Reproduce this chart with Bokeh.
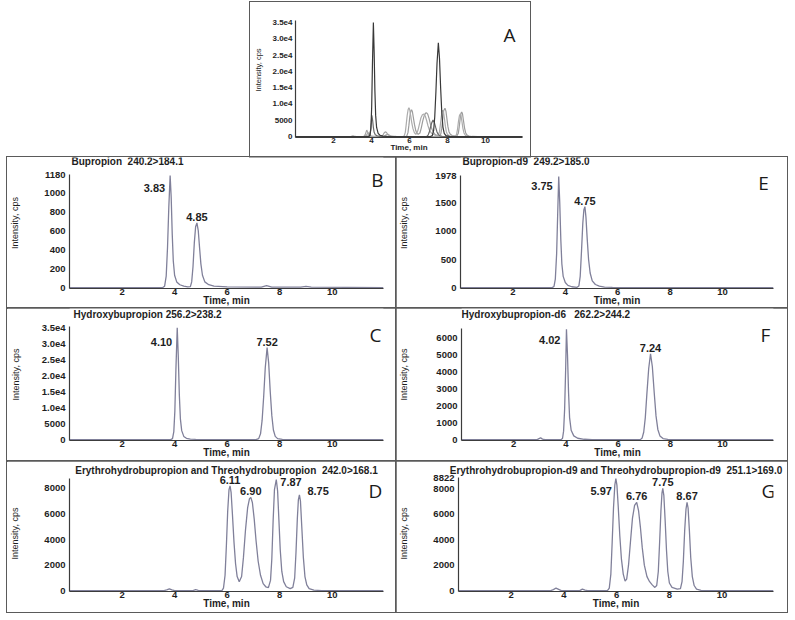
from bokeh.plotting import figure
from bokeh.models import Range1d, FixedTicker, Label, Spacer
from bokeh.layouts import column, row
from bokeh.embed import file_html
from bokeh.resources import INLINE

# ---------------- data ----------------
x_ticks = [2, 4, 6, 8, 10]
x_end = 11.95
x_label = "Time, min"
y_label = "Intensity, cps"

# Panel B : Bupropion
b_title = "Bupropion\u00a0 240.2>184.1"
b_time = [0, 3.55, 3.62, 3.68, 3.73, 3.78, 3.83, 3.87, 3.91, 3.95, 4.0, 4.08, 4.2, 4.35, 4.5,
          4.6, 4.65, 4.7, 4.75, 4.8, 4.85, 4.9, 4.95, 5.0, 5.06, 5.15, 5.3, 5.5, 6.0, 7.3, 7.5,
          7.7, 8.8, 9.0, 9.2, 11.95]
b_int = [0, 0, 15, 120, 420, 850, 1180, 950, 560, 280, 130, 60, 30, 15, 8,
         10, 60, 220, 470, 640, 680, 600, 420, 250, 130, 60, 30, 15, 8, 5, 20,
         5, 5, 12, 5, 0]
b_peak_rt = ["3.83", "4.85"]
b_peak_h = [1180, 680]
b_yticks = [0, 200, 400, 600, 800, 1000, 1180]
b_ylabels = ["0", "200", "400", "600", "800", "1000", "1180"]
b_ymax = 1190

# Panel E : Bupropion-d9
e_title = "Bupropion-d9\u00a0 249.2>185.0"
e_time = [0, 3.5, 3.57, 3.62, 3.67, 3.71, 3.75, 3.79, 3.83, 3.87, 3.92, 4.0, 4.1, 4.25, 4.45,
          4.52, 4.57, 4.62, 4.67, 4.71, 4.75, 4.79, 4.84, 4.89, 4.95, 5.03, 5.15, 5.3, 5.5, 5.8, 11.95]
e_int = [0, 0, 20, 150, 600, 1300, 1978, 1500, 850, 420, 200, 90, 40, 15, 5,
         30, 200, 650, 1150, 1380, 1440, 1250, 850, 500, 260, 120, 55, 25, 10, 3, 0]
e_peak_rt = ["3.75", "4.75"]
e_peak_h = [1978, 1440]
e_yticks = [0, 500, 1000, 1500, 1978]
e_ylabels = ["0", "500", "1000", "1500", "1978"]
e_ymax = 1995

# Panel C : Hydroxybupropion
c_title = "Hydroxybupropion 256.2>238.2"
c_time = [0, 3.85, 3.92, 3.97, 4.01, 4.05, 4.10, 4.14, 4.18, 4.22, 4.27, 4.35, 4.45, 4.6, 4.8, 5.2,
          7.1, 7.2, 7.27, 7.33, 7.39, 7.45, 7.52, 7.58, 7.64, 7.7, 7.76, 7.83, 7.92, 8.1, 8.3, 11.95]
c_int = [0, 0, 300, 2500, 9000, 22000, 35000, 26000, 14000, 6500, 2800, 1000, 400, 150, 50, 0,
         0, 300, 1800, 6000, 13500, 22500, 28800, 24000, 15000, 7500, 3000, 1000, 300, 50, 0, 0]
c_peak_rt = ["4.10", "7.52"]
c_peak_h = [35000, 28800]
c_yticks = [0, 5000, 10000, 15000, 20000, 25000, 30000, 35000]
c_ylabels = ["0", "5000", "1.0e4", "1.5e4", "2.0e4", "2.5e4", "3.0e4", "3.5e4"]
c_ymax = 35400

# Panel F : Hydroxybupropion-d6
f_title = "Hydroxybupropion-d6\u00a0 \u00a0262.2>244.2"
f_time = [0, 2.9, 2.97, 3.03, 3.1, 3.2, 3.82, 3.87, 3.91, 3.95, 3.99, 4.02, 4.06, 4.10, 4.14, 4.2,
          4.3, 4.45, 4.7, 5.0, 6.85, 6.92, 6.98, 7.04, 7.1, 7.17, 7.24, 7.31, 7.38, 7.45, 7.52,
          7.6, 7.72, 7.9, 8.2, 11.95]
f_int = [0, 0, 60, 110, 30, 0, 0, 80, 500, 1800, 4200, 6520, 5000, 2800, 1300, 550,
         220, 80, 20, 0, 0, 100, 450, 1300, 2700, 4200, 5070, 4300, 2800, 1400, 600,
         220, 60, 10, 0, 0]
f_peak_rt = ["4.02", "7.24"]
f_peak_h = [6520, 5070]
f_yticks = [0, 1000, 2000, 3000, 4000, 5000, 6000]
f_ylabels = ["0", "1000", "2000", "3000", "4000", "5000", "6000"]
f_ymax = 6560

# Panel D : Erythro- and Threohydrobupropion
d_title = "Erythrohydrobupropion and Threohydrobupropion\u00a0 242.0>168.1"
d_time = [0, 3.6, 3.7, 3.8, 3.9, 4.0, 4.7, 4.8, 4.9, 5.0, 5.8, 5.86, 5.92, 5.97, 6.02, 6.07,
          6.11, 6.15, 6.2, 6.26, 6.32, 6.38, 6.46, 6.55, 6.62, 6.7, 6.78, 6.85, 6.9, 6.96,
          7.03, 7.1, 7.18, 7.27, 7.37, 7.47, 7.57, 7.65, 7.7, 7.75, 7.8, 7.87, 7.92, 7.97,
          8.02, 8.08, 8.15, 8.25, 8.4, 8.5, 8.57, 8.62, 8.67, 8.71, 8.75, 8.79, 8.84, 8.9,
          8.96, 9.03, 9.12, 9.3, 9.6, 11.95]
d_int = [0, 0, 60, 140, 60, 0, 0, 80, 20, 0, 0, 200, 1200, 3500, 6200, 7900,
         8200, 7700, 6000, 3800, 2100, 1100, 700, 1100, 2600, 4800, 6500, 7200, 7300, 6900,
         5600, 3900, 2300, 1200, 550, 300, 230, 800, 2500, 5500, 7900, 8700, 7800, 5500,
         3200, 1500, 700, 300, 150, 250, 1000, 3000, 5600, 7100, 7500, 7000, 5000, 2600,
         1100, 450, 150, 30, 0, 0]
d_peak_rt = ["6.11", "6.90", "7.87", "8.75"]
d_peak_h = [8200, 7300, 8700, 7500]
d_yticks = [0, 2000, 4000, 6000, 8000]
d_ylabels = ["0", "2000", "4000", "6000", "8000"]
d_ymax = 8780

# Panel G : Erythro- and Threohydrobupropion-d9
g_title = "Erythrohydrobupropion-d9 and Threohydrobupropion-d9\u00a0 251.1>169.0"
g_time = [0, 3.5, 3.6, 3.7, 3.8, 3.9, 4.6, 4.7, 4.8, 4.9, 5.65, 5.72, 5.78, 5.83, 5.88, 5.93,
          5.97, 6.01, 6.06, 6.12, 6.18, 6.25, 6.32, 6.38, 6.45, 6.53, 6.6, 6.68, 6.76, 6.83,
          6.9, 6.97, 7.05, 7.15, 7.25, 7.35, 7.45, 7.52, 7.58, 7.63, 7.68, 7.72, 7.75, 7.79,
          7.84, 7.89, 7.94, 8.0, 8.1, 8.3, 8.42, 8.48, 8.53, 8.58, 8.63, 8.67, 8.71, 8.76,
          8.81, 8.87, 8.94, 9.03, 9.2, 9.5, 11.95]
g_int = [0, 0, 80, 200, 100, 0, 0, 120, 30, 0, 0, 200, 1300, 3800, 6500, 8300,
         8822, 8300, 6600, 4300, 2500, 1300, 750, 900, 2000, 4000, 5700, 6700, 6950, 6300,
         5000, 3400, 2000, 1100, 700, 450, 250, 400, 1500, 3800, 6300, 7700, 8050, 7500,
         5500, 3200, 1500, 600, 250, 120, 150, 700, 2300, 4700, 6400, 6950, 6500, 4700,
         2600, 1100, 400, 120, 20, 0, 0]
g_peak_rt = ["5.97", "6.76", "7.75", "8.67"]
g_peak_h = [8822, 6950, 8050, 6950]
g_yticks = [0, 2000, 4000, 6000, 8000, 8822]
g_ylabels = ["0", "2000", "4000", "6000", "8000", "8822"]
g_ymax = 8900

# Panel A : overlay of all transitions
a_yticks = c_yticks
a_ylabels = c_ylabels
a_ymax = 35600

# ---------------- styles ----------------
TRACE = "#80809a"
AXIS = "#3c3c3c"
FONT = "Liberation Sans"
BORDER = "1px solid #5a5a5a"
TXT = "#1e1e1e"

RIGHT_LOW = ("right", "middle", -5, -13)
TOP = ("center", "bottom", 0, 2)


def make_panel(w, h, left, right, top_px, bottom, ylab_standoff, title, title_align,
               title_dx, title_dy, ymax, yticks, ylabels, letter, letter_dx, letter_dy,
               small=False, title_band=0):
    # title_band > 0: title drawn as a real plot title in a band above the frame
    y0 = -0.008 * ymax
    frame_h = h - bottom - title_band
    t_px = top_px - title_band
    y_top = ymax + t_px * (ymax - y0) / (frame_h - t_px)
    p = figure(width=w, height=h, output_backend="svg", toolbar_location=None,
               x_range=Range1d(0, x_end), y_range=Range1d(y0, y_top),
               min_border_left=left, min_border_right=right,
               min_border_top=title_band, min_border_bottom=bottom,
               outline_line_color=None, background_fill_color="white",
               border_fill_color="white", styles={"outline": BORDER})
    p.grid.visible = False
    tick_fs = "8px" if small else "9.5px"
    for ax in (p.xaxis[0], p.yaxis[0]):
        ax.axis_line_color = AXIS
        ax.axis_line_width = 1.2
        ax.major_tick_out = 0
        ax.major_tick_in = 0
        ax.minor_tick_line_color = None
        ax.major_label_text_font = FONT
        ax.major_label_text_font_style = "bold"
        ax.major_label_text_font_size = tick_fs
        ax.major_label_text_color = TXT
        ax.major_label_text_line_height = 1.0
        ax.axis_label_text_font = FONT
        ax.axis_label_text_color = TXT
        ax.axis_label_text_line_height = 1.0
    p.xaxis.ticker = FixedTicker(ticks=x_ticks)
    p.xaxis.major_label_standoff = 0
    p.xaxis.axis_label = x_label
    p.xaxis.axis_label_standoff = -3
    p.xaxis.axis_label_text_font_style = "bold"
    p.xaxis.axis_label_text_font_size = "8px" if small else "10px"
    p.yaxis.ticker = FixedTicker(ticks=yticks)
    p.yaxis.bounds = (y0, ymax)
    p.yaxis.major_label_overrides = {t: s for t, s in zip(yticks, ylabels)}
    p.yaxis.major_label_standoff = 4 if not small else 3
    p.yaxis.axis_label = y_label
    p.yaxis.axis_label_standoff = ylab_standoff
    p.yaxis.axis_label_text_font_style = "normal"
    p.yaxis.axis_label_text_font_size = "9px" if not small else "7.5px"
    if title and title_band > 0:
        p.title.text = title
        p.title.align = title_align
        p.title.offset = title_dx
        p.title.standoff = 0
        p.title.text_font = FONT
        p.title.text_font_size = "10px"
        p.title.text_font_style = "bold"
        p.title.text_color = TXT
    elif title:
        tx = 0 if title_align == "left" else x_end / 2
        p.add_layout(Label(x=tx, y=y_top, text=title, x_offset=title_dx, y_offset=-title_dy,
                           text_align=title_align, text_baseline="middle",
                           text_font=FONT, text_font_size="10px", text_font_style="bold",
                           text_color=TXT))
    p.add_layout(Label(x=x_end, y=y_top, text=letter, x_offset=-letter_dx,
                       y_offset=-(letter_dy - title_band),
                       text_align="center", text_baseline="middle",
                       text_font="Open Sans", text_font_size="19px", text_color="#1a1a1a"))
    return p


def add_peaks(p, rts, heights, styles):
    for rt, hgt, st in zip(rts, heights, styles):
        align, base, dx, dy = st
        p.add_layout(Label(x=float(rt), y=hgt, text=rt, x_offset=dx, y_offset=dy,
                           text_align=align, text_baseline=base, text_font=FONT,
                           text_font_size="11px", text_font_style="bold",
                           text_color=TXT))


# Panel A
pA = make_panel(280, 155, 45, 8, 18, 20, 6, None, "left", 0, 0,
                a_ymax, a_yticks, a_ylabels, "A", 13, 32, small=True)
for t, y, col in [(b_time, b_int, "#b0b0b0"), (e_time, e_int, "#a4a4a4"),
                  (d_time, d_int, "#9c9c9c"), (g_time, g_int, "#acacac"),
                  (f_time, f_int, "#6a6a6a"), (c_time, c_int, "#383838")]:
    pA.line(t, y, line_color=col, line_width=1.2)

# Panel B
pB = make_panel(389, 151, 61, 13, 17, 20, 21, b_title, "left", 2, 4,
                b_ymax, b_yticks, b_ylabels, "B", 6, 22)
pB.line(b_time, b_int, line_color=TRACE, line_width=1.3)
add_peaks(pB, b_peak_rt, b_peak_h, [RIGHT_LOW, TOP])

# Panel E
pE = make_panel(391, 151, 64, 14, 18, 20, 23, e_title, "left", 2, 4,
                e_ymax, e_yticks, e_ylabels, "E", 10, 25)
pE.line(e_time, e_int, line_color=TRACE, line_width=1.3)
add_peaks(pE, e_peak_rt, e_peak_h, [("right", "middle", -6, -10), TOP])

# Panel C
pC = make_panel(389, 153, 62, 13, 18, 21, 18, c_title, "left", 4, 6,
                c_ymax, c_yticks, c_ylabels, "C", 8, 26)
pC.line(c_time, c_int, line_color=TRACE, line_width=1.3)
add_peaks(pC, c_peak_rt, c_peak_h, [("right", "middle", -5, -14), TOP])

# Panel F
pF = make_panel(391, 153, 65, 14, 20, 21, 24, f_title, "left", 0, 6,
                f_ymax, f_yticks, f_ylabels, "F", 8, 26)
pF.line(f_time, f_int, line_color=TRACE, line_width=1.3)
add_peaks(pF, f_peak_rt, f_peak_h, [("right", "middle", -6, -11), TOP])

# Panel D
pD = make_panel(389, 151, 62, 13, 17, 21, 21, d_title, "center", -2, 0,
                d_ymax, d_yticks, d_ylabels, "D", 8, 29, title_band=14)
pD.line(d_time, d_int, line_color=TRACE, line_width=1.3)
add_peaks(pD, d_peak_rt, d_peak_h,
          [TOP, TOP, ("left", "middle", 4, -2), ("left", "middle", 8, 4)])

# Panel G
pG = make_panel(391, 151, 62, 14, 16, 21, 21, g_title, "center", -3, 0,
                g_ymax, g_yticks, g_ylabels, "G", 5, 29, title_band=14)
pG.line(g_time, g_int, line_color=TRACE, line_width=1.3)
add_peaks(pG, g_peak_rt, g_peak_h, [("right", "middle", -4, -13), TOP, TOP, TOP])

layout = column(
    Spacer(width=10, height=2),
    row(Spacer(width=250, height=155), pA),
    row(Spacer(width=7, height=151), pB, pE),
    row(Spacer(width=7, height=153), pC, pF),
    row(Spacer(width=7, height=151), pD, pG),
)

open("out.html", "w").write(file_html(layout, INLINE))
